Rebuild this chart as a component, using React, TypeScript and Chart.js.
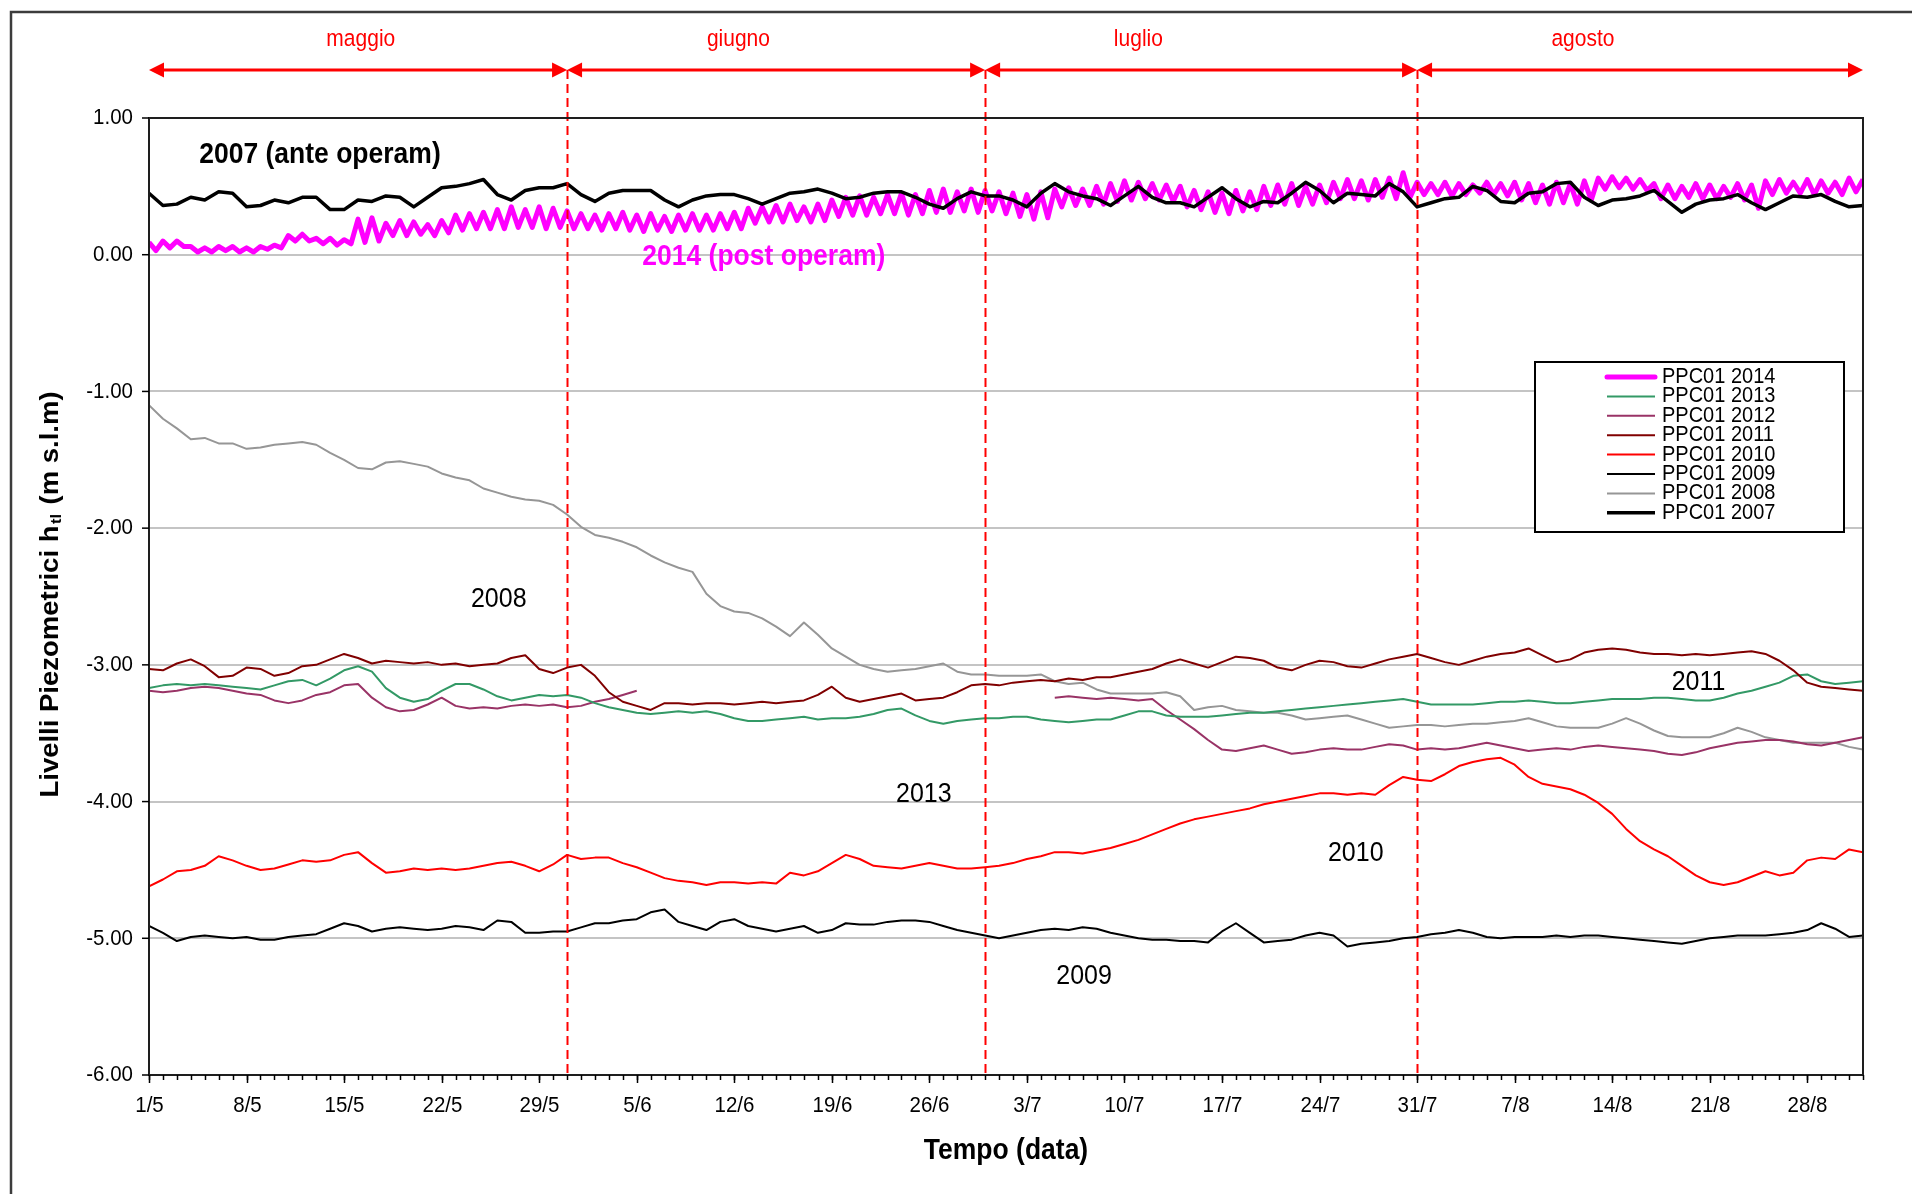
import { useEffect, useRef } from "react";
import { Chart, registerables } from "chart.js";

Chart.register(...registerables);

const FONT = '"Liberation Sans", Arial, Helvetica, sans-serif';

// ---- x positions: day index from 1/5 (0) to 1/9 (123)
const days = Array.from({ length: 124 }, (_, i) => i);

const xTickLabels = ["1/5", "8/5", "15/5", "22/5", "29/5", "5/6", "12/6", "19/6", "26/6", "3/7", "10/7", "17/7", "24/7", "31/7", "7/8", "14/8", "21/8", "28/8"];
const yTickLabels = ["1.00", "0.00", "-1.00", "-2.00", "-3.00", "-4.00", "-5.00", "-6.00"];

const monthNames = ["maggio", "giugno", "luglio", "agosto"];
const monthStartDay = [0, 30, 60, 91];
const monthEndDay = [30, 60, 91, 123];
const monthLabelDay = [15.2, 42.3, 71.0, 102.9];
const monthBoundaryDay = [30, 60, 91];

// ---- series (daily readings, m s.l.m)
const s2014High = [
  0.09, 0.10, 0.10, 0.06, 0.05, 0.06, 0.06, 0.05, 0.06, 0.07,
  0.14, 0.15, 0.12, 0.12, 0.11, 0.26, 0.27, 0.23, 0.25, 0.24,
  0.22, 0.25, 0.29, 0.30, 0.31, 0.33, 0.35, 0.33, 0.35, 0.34,
  0.32, 0.30, 0.29, 0.30, 0.31, 0.29, 0.30, 0.28, 0.29, 0.30,
  0.29, 0.30, 0.31, 0.34, 0.35, 0.36, 0.37, 0.35, 0.37, 0.40,
  0.42, 0.43, 0.42, 0.44, 0.45, 0.44, 0.47, 0.48, 0.46, 0.48,
  0.47, 0.46, 0.45, 0.44, 0.46, 0.48, 0.49, 0.48, 0.50, 0.52,
  0.54, 0.53, 0.52, 0.51, 0.50, 0.47, 0.46, 0.45, 0.47, 0.46,
  0.50, 0.51, 0.52, 0.50, 0.51, 0.53, 0.55, 0.54, 0.55, 0.56,
  0.60, 0.53, 0.52, 0.53, 0.52, 0.51, 0.53, 0.52, 0.53, 0.52,
  0.51, 0.53, 0.52, 0.54, 0.56, 0.57, 0.56, 0.55, 0.52, 0.51,
  0.50, 0.52, 0.51, 0.50, 0.52, 0.51, 0.54, 0.55, 0.53, 0.55,
  0.54, 0.53, 0.56, 0.55,
];
const s2014Low = [
  0.03, 0.05, 0.06, 0.02, 0.02, 0.03, 0.02, 0.02, 0.04, 0.05,
  0.10, 0.10, 0.08, 0.07, 0.08, 0.09, 0.10, 0.14, 0.14, 0.15,
  0.14, 0.16, 0.18, 0.19, 0.19, 0.19, 0.20, 0.20, 0.19, 0.20,
  0.19, 0.19, 0.18, 0.19, 0.18, 0.17, 0.18, 0.17, 0.18, 0.18,
  0.18, 0.19, 0.19, 0.23, 0.24, 0.24, 0.25, 0.24, 0.25, 0.28,
  0.29, 0.29, 0.30, 0.30, 0.29, 0.30, 0.31, 0.31, 0.32, 0.31,
  0.32, 0.30, 0.28, 0.26, 0.27, 0.35, 0.36, 0.36, 0.37, 0.39,
  0.40, 0.41, 0.40, 0.39, 0.35, 0.33, 0.31, 0.30, 0.32, 0.33,
  0.36, 0.37, 0.36, 0.37, 0.38, 0.41, 0.41, 0.40, 0.42, 0.41,
  0.42, 0.44, 0.44, 0.43, 0.44, 0.45, 0.44, 0.43, 0.40, 0.38,
  0.37, 0.38, 0.37, 0.40, 0.48, 0.49, 0.48, 0.47, 0.41, 0.41,
  0.42, 0.41, 0.41, 0.42, 0.40, 0.34, 0.44, 0.45, 0.45, 0.44,
  0.45, 0.44, 0.46, 0.48,
];
const s2013 = [
  -3.17, -3.15, -3.14, -3.15, -3.14, -3.15, -3.16, -3.17, -3.18, -3.15,
  -3.12, -3.11, -3.15, -3.10, -3.04, -3.01, -3.05, -3.17, -3.24, -3.27,
  -3.25, -3.19, -3.14, -3.14, -3.18, -3.23, -3.26, -3.24, -3.22, -3.23,
  -3.22, -3.24, -3.28, -3.31, -3.33, -3.35, -3.36, -3.35, -3.34, -3.35,
  -3.34, -3.36, -3.39, -3.41, -3.41, -3.40, -3.39, -3.38, -3.40, -3.39,
  -3.39, -3.38, -3.36, -3.33, -3.32, -3.37, -3.41, -3.43, -3.41, -3.40,
  -3.39, -3.39, -3.38, -3.38, -3.40, -3.41, -3.42, -3.41, -3.40, -3.40,
  -3.37, -3.34, -3.34, -3.37, -3.38, -3.38, -3.38, -3.37, -3.36, -3.35,
  -3.35, -3.34, -3.33, -3.32, -3.31, -3.30, -3.29, -3.28, -3.27, -3.26,
  -3.25, -3.27, -3.29, -3.29, -3.29, -3.29, -3.28, -3.27, -3.27, -3.26,
  -3.27, -3.28, -3.28, -3.27, -3.26, -3.25, -3.25, -3.25, -3.24, -3.24,
  -3.25, -3.26, -3.26, -3.24, -3.21, -3.19, -3.16, -3.13, -3.08, -3.07,
  -3.12, -3.14, -3.13, -3.12,
];
const s2012 = [
  -3.19, -3.20, -3.19, -3.17, -3.16, -3.17, -3.19, -3.21, -3.22, -3.26,
  -3.28, -3.26, -3.22, -3.20, -3.15, -3.14, -3.24, -3.31, -3.34, -3.33,
  -3.29, -3.24, -3.30, -3.32, -3.31, -3.32, -3.30, -3.29, -3.30, -3.29,
  -3.31, -3.30, -3.27, -3.25, -3.22, -3.19, null, null, null, null,
  null, null, null, null, null, null, null, null, null, null,
  null, null, null, null, null, null, null, null, null, null,
  null, null, null, null, null, -3.24, -3.23, -3.24, -3.25, -3.24,
  -3.25, -3.26, -3.25, -3.33, -3.40, -3.47, -3.55, -3.62, -3.63, -3.61,
  -3.59, -3.62, -3.65, -3.64, -3.62, -3.61, -3.62, -3.62, -3.60, -3.58,
  -3.59, -3.62, -3.61, -3.62, -3.61, -3.59, -3.57, -3.59, -3.61, -3.63,
  -3.62, -3.61, -3.62, -3.60, -3.59, -3.60, -3.61, -3.62, -3.63, -3.65,
  -3.66, -3.64, -3.61, -3.59, -3.57, -3.56, -3.55, -3.55, -3.56, -3.58,
  -3.59, -3.57, -3.55, -3.53,
];
const s2011 = [
  -3.03, -3.04, -2.99, -2.96, -3.01, -3.09, -3.08, -3.02, -3.03, -3.08,
  -3.06, -3.01, -3.00, -2.96, -2.92, -2.95, -2.99, -2.97, -2.98, -2.99,
  -2.98, -3.00, -2.99, -3.01, -3.00, -2.99, -2.95, -2.93, -3.03, -3.06,
  -3.02, -3.00, -3.08, -3.20, -3.27, -3.30, -3.33, -3.28, -3.28, -3.29,
  -3.28, -3.28, -3.29, -3.28, -3.27, -3.28, -3.27, -3.26, -3.22, -3.16,
  -3.24, -3.27, -3.25, -3.23, -3.21, -3.26, -3.25, -3.24, -3.20, -3.15,
  -3.14, -3.15, -3.13, -3.12, -3.11, -3.12, -3.10, -3.11, -3.09, -3.09,
  -3.07, -3.05, -3.03, -2.99, -2.96, -2.99, -3.02, -2.98, -2.94, -2.95,
  -2.97, -3.02, -3.04, -3.00, -2.97, -2.98, -3.01, -3.02, -2.99, -2.96,
  -2.94, -2.92, -2.95, -2.98, -3.00, -2.97, -2.94, -2.92, -2.91, -2.88,
  -2.93, -2.98, -2.96, -2.91, -2.89, -2.88, -2.89, -2.91, -2.92, -2.92,
  -2.93, -2.92, -2.93, -2.92, -2.91, -2.90, -2.92, -2.97, -3.04, -3.13,
  -3.16, -3.17, -3.18, -3.19,
];
const s2010 = [
  -4.62, -4.57, -4.51, -4.50, -4.47, -4.40, -4.43, -4.47, -4.50, -4.49,
  -4.46, -4.43, -4.44, -4.43, -4.39, -4.37, -4.45, -4.52, -4.51, -4.49,
  -4.50, -4.49, -4.50, -4.49, -4.47, -4.45, -4.44, -4.47, -4.51, -4.46,
  -4.39, -4.42, -4.41, -4.41, -4.45, -4.48, -4.52, -4.56, -4.58, -4.59,
  -4.61, -4.59, -4.59, -4.60, -4.59, -4.60, -4.52, -4.54, -4.51, -4.45,
  -4.39, -4.42, -4.47, -4.48, -4.49, -4.47, -4.45, -4.47, -4.49, -4.49,
  -4.48, -4.47, -4.45, -4.42, -4.40, -4.37, -4.37, -4.38, -4.36, -4.34,
  -4.31, -4.28, -4.24, -4.20, -4.16, -4.13, -4.11, -4.09, -4.07, -4.05,
  -4.02, -4.00, -3.98, -3.96, -3.94, -3.94, -3.95, -3.94, -3.95, -3.88,
  -3.82, -3.84, -3.85, -3.80, -3.74, -3.71, -3.69, -3.68, -3.73, -3.82,
  -3.87, -3.89, -3.91, -3.95, -4.01, -4.09, -4.20, -4.29, -4.35, -4.40,
  -4.47, -4.54, -4.59, -4.61, -4.59, -4.55, -4.51, -4.54, -4.52, -4.43,
  -4.41, -4.42, -4.35, -4.37,
];
const s2009 = [
  -4.91, -4.96, -5.02, -4.99, -4.98, -4.99, -5.00, -4.99, -5.01, -5.01,
  -4.99, -4.98, -4.97, -4.93, -4.89, -4.91, -4.95, -4.93, -4.92, -4.93,
  -4.94, -4.93, -4.91, -4.92, -4.94, -4.87, -4.88, -4.96, -4.96, -4.95,
  -4.95, -4.92, -4.89, -4.89, -4.87, -4.86, -4.81, -4.79, -4.88, -4.91,
  -4.94, -4.88, -4.86, -4.91, -4.93, -4.95, -4.93, -4.91, -4.96, -4.94,
  -4.89, -4.90, -4.90, -4.88, -4.87, -4.87, -4.88, -4.91, -4.94, -4.96,
  -4.98, -5.00, -4.98, -4.96, -4.94, -4.93, -4.94, -4.92, -4.93, -4.96,
  -4.98, -5.00, -5.01, -5.01, -5.02, -5.02, -5.03, -4.95, -4.89, -4.96,
  -5.03, -5.02, -5.01, -4.98, -4.96, -4.98, -5.06, -5.04, -5.03, -5.02,
  -5.00, -4.99, -4.97, -4.96, -4.94, -4.96, -4.99, -5.00, -4.99, -4.99,
  -4.99, -4.98, -4.99, -4.98, -4.98, -4.99, -5.00, -5.01, -5.02, -5.03,
  -5.04, -5.02, -5.00, -4.99, -4.98, -4.98, -4.98, -4.97, -4.96, -4.94,
  -4.89, -4.93, -4.99, -4.98,
];
const s2008 = [
  -1.10, -1.20, -1.27, -1.35, -1.34, -1.38, -1.38, -1.42, -1.41, -1.39,
  -1.38, -1.37, -1.39, -1.45, -1.50, -1.56, -1.57, -1.52, -1.51, -1.53,
  -1.55, -1.60, -1.63, -1.65, -1.71, -1.74, -1.77, -1.79, -1.80, -1.83,
  -1.90, -1.99, -2.05, -2.07, -2.10, -2.14, -2.20, -2.25, -2.29, -2.32,
  -2.48, -2.57, -2.61, -2.62, -2.66, -2.72, -2.79, -2.69, -2.78, -2.88,
  -2.94, -3.00, -3.03, -3.05, -3.04, -3.03, -3.01, -2.99, -3.05, -3.07,
  -3.07, -3.08, -3.08, -3.08, -3.07, -3.12, -3.14, -3.13, -3.18, -3.21,
  -3.21, -3.21, -3.21, -3.20, -3.23, -3.33, -3.31, -3.30, -3.33, -3.34,
  -3.35, -3.35, -3.37, -3.40, -3.39, -3.38, -3.37, -3.40, -3.43, -3.46,
  -3.45, -3.44, -3.44, -3.45, -3.44, -3.43, -3.43, -3.42, -3.41, -3.39,
  -3.42, -3.45, -3.46, -3.46, -3.46, -3.43, -3.39, -3.43, -3.48, -3.52,
  -3.53, -3.53, -3.53, -3.50, -3.46, -3.49, -3.53, -3.55, -3.57, -3.57,
  -3.57, -3.57, -3.60, -3.62,
];
const s2007 = [
  0.45, 0.36, 0.37, 0.42, 0.40, 0.46, 0.45, 0.35, 0.36, 0.40,
  0.38, 0.42, 0.42, 0.33, 0.33, 0.40, 0.39, 0.43, 0.42, 0.35,
  0.42, 0.49, 0.50, 0.52, 0.55, 0.44, 0.40, 0.47, 0.49, 0.49,
  0.52, 0.44, 0.39, 0.45, 0.47, 0.47, 0.47, 0.40, 0.35, 0.40,
  0.43, 0.44, 0.44, 0.41, 0.37, 0.41, 0.45, 0.46, 0.48, 0.45,
  0.41, 0.42, 0.45, 0.46, 0.46, 0.42, 0.37, 0.34, 0.41, 0.46,
  0.43, 0.43, 0.40, 0.35, 0.45, 0.52, 0.46, 0.43, 0.41, 0.36,
  0.43, 0.50, 0.42, 0.38, 0.38, 0.35, 0.42, 0.49, 0.41, 0.35,
  0.39, 0.38, 0.45, 0.53, 0.47, 0.38, 0.45, 0.44, 0.43, 0.52,
  0.46, 0.35, 0.38, 0.41, 0.42, 0.50, 0.47, 0.39, 0.38, 0.45,
  0.46, 0.52, 0.53, 0.42, 0.36, 0.40, 0.41, 0.43, 0.47, 0.39,
  0.31, 0.37, 0.40, 0.41, 0.44, 0.38, 0.33, 0.38, 0.43, 0.42,
  0.44, 0.39, 0.35, 0.36,
];

const seriesLabels = ["PPC01 2014", "PPC01 2013", "PPC01 2012", "PPC01 2011", "PPC01 2010", "PPC01 2009", "PPC01 2008", "PPC01 2007"];
const seriesColors = ["#ff00ff", "#339966", "#993366", "#800000", "#ff0000", "#000000", "#969696", "#000000"];
const seriesWidths = [5, 2, 2, 2, 2, 2, 2, 3.5];
const seriesOrder = [1, 5, 6, 4, 3, 2, 7, 0];

// in-plot annotations (data coordinates: day, value)
const annoTexts = ["2007 (ante operam)", "2014 (post operam)", "2008", "2013", "2010", "2009", "2011"];
const annoDays = [3.6, 35.4, 25.1, 55.6, 86.6, 67.1, 111.2];
const annoValues = [0.73, -0.02, -2.52, -3.95, -4.38, -5.28, -3.13];
const annoColors = ["#000000", "#ff00ff", "#000000", "#000000", "#000000", "#000000", "#000000"];
const annoBold = [true, true, false, false, false, false, false];
const annoAlign = ["left", "left", "center", "center", "center", "center", "center"];

function pts(vals: (number | null)[]) {
  return vals.map((v, i) => ({ x: days[i], y: v }));
}

function drawText(
  ctx: CanvasRenderingContext2D, s: string, x: number, y: number, size: number,
  opts: { bold?: boolean; color?: string; align?: CanvasTextAlign; sy?: number } = {}
) {
  ctx.save();
  ctx.translate(x, y);
  ctx.scale(1, opts.sy ?? 1.1);
  ctx.font = `${opts.bold ? "bold " : ""}${size}px ${FONT}`;
  ctx.fillStyle = opts.color ?? "#000";
  ctx.textAlign = opts.align ?? "center";
  ctx.textBaseline = "middle";
  ctx.fillText(s, 0, 0);
  ctx.restore();
}

const decorPlugin = {
  id: "decor",
  beforeDraw(chart: any) {
    const ctx: CanvasRenderingContext2D = chart.ctx;
    ctx.save();
    ctx.fillStyle = "#ffffff";
    ctx.fillRect(0, 0, chart.width, chart.height);
    ctx.strokeStyle = "#3c3c3c";
    ctx.lineWidth = 2.5;
    ctx.strokeRect(11, 12, chart.width + 50, chart.height + 50);
    ctx.restore();
  },
  afterDatasetsDraw(chart: any) {
    const ctx: CanvasRenderingContext2D = chart.ctx;
    const a = chart.chartArea;
    const xs = chart.scales.x;
    const ys = chart.scales.y;
    const arrowY = 70;

    ctx.save();
    // month boundaries (dashed)
    ctx.strokeStyle = "#ff0000";
    ctx.lineWidth = 2;
    ctx.setLineDash([9, 5]);
    monthBoundaryDay.forEach((d) => {
      const px = Math.round(xs.getPixelForValue(d)) + 0.5;
      ctx.beginPath();
      ctx.moveTo(px, arrowY);
      ctx.lineTo(px, a.bottom);
      ctx.stroke();
    });
    ctx.setLineDash([]);

    // month arrows and labels
    ctx.fillStyle = "#ff0000";
    ctx.lineWidth = 3;
    monthNames.forEach((m, i) => {
      const x1 = xs.getPixelForValue(monthStartDay[i]);
      const x2 = xs.getPixelForValue(monthEndDay[i]);
      const hl = 15, hw = 7.5;
      ctx.beginPath();
      ctx.moveTo(x1 + hl - 2, arrowY);
      ctx.lineTo(x2 - hl + 2, arrowY);
      ctx.stroke();
      ctx.beginPath();
      ctx.moveTo(x1, arrowY);
      ctx.lineTo(x1 + hl, arrowY - hw);
      ctx.lineTo(x1 + hl, arrowY + hw);
      ctx.closePath();
      ctx.fill();
      ctx.beginPath();
      ctx.moveTo(x2, arrowY);
      ctx.lineTo(x2 - hl, arrowY - hw);
      ctx.lineTo(x2 - hl, arrowY + hw);
      ctx.closePath();
      ctx.fill();
      drawText(ctx, m, xs.getPixelForValue(monthLabelDay[i]), 40, 21, { color: "#ff0000" });
    });

    // plot border
    ctx.strokeStyle = "#1e1e1e";
    ctx.lineWidth = 2;
    ctx.strokeRect(a.left, a.top, a.right - a.left, a.bottom - a.top);

    // y ticks + labels
    ctx.lineWidth = 1.5;
    ctx.strokeStyle = "#000";
    ys.ticks.forEach((t: any) => {
      const py = ys.getPixelForValue(t.value);
      ctx.beginPath();
      ctx.moveTo(a.left - 7, py);
      ctx.lineTo(a.left, py);
      ctx.stroke();
      const idx = Math.round(1 - t.value);
      drawText(ctx, yTickLabels[idx], a.left - 16, py, 20.5, { align: "right" });
    });

    // x minor ticks (daily) and major ticks + labels
    days.forEach((d) => {
      const px = Math.round(xs.getPixelForValue(d)) + 0.5;
      ctx.beginPath();
      ctx.moveTo(px, a.bottom);
      ctx.lineTo(px, a.bottom + 5);
      ctx.stroke();
    });
    xs.ticks.forEach((t: any) => {
      const px = Math.round(xs.getPixelForValue(t.value)) + 0.5;
      ctx.beginPath();
      ctx.moveTo(px, a.bottom);
      ctx.lineTo(px, a.bottom + 8);
      ctx.stroke();
      const idx = Math.round(t.value / 7);
      if (xTickLabels[idx]) drawText(ctx, xTickLabels[idx], px, a.bottom + 31, 20.5);
    });

    // axis titles
    drawText(ctx, "Tempo (data)", (a.left + a.right) / 2, 1151, 26.5, { bold: true });
    {
      const big = `bold 25px ${FONT}`;
      const small = `bold 15px ${FONT}`;
      const p1 = "Livelli Piezometrici h";
      const p2 = "tl";
      const p3 = " (m s.l.m)";
      ctx.save();
      ctx.translate(51, (a.top + a.bottom) / 2 - 2);
      ctx.rotate(-Math.PI / 2);
      ctx.scale(1.1, 1);
      ctx.fillStyle = "#000";
      ctx.textBaseline = "middle";
      ctx.textAlign = "left";
      ctx.font = big;
      const w1 = ctx.measureText(p1).width;
      const w3 = ctx.measureText(p3).width;
      ctx.font = small;
      const w2 = ctx.measureText(p2).width;
      const start = -(w1 + w2 + w3 + 3) / 2;
      ctx.font = big;
      ctx.fillText(p1, start, 0);
      ctx.font = small;
      ctx.fillText(p2, start + w1 + 1.5, 6);
      ctx.font = big;
      ctx.fillText(p3, start + w1 + w2 + 3, 0);
      ctx.restore();
    }

    // annotations
    annoTexts.forEach((s, i) => {
      drawText(ctx, s, xs.getPixelForValue(annoDays[i]), ys.getPixelForValue(annoValues[i]),
        annoBold[i] ? 26.5 : 25, { bold: annoBold[i], color: annoColors[i], align: annoAlign[i] as CanvasTextAlign });
    });

    // legend
    const lx = 1535, ly = 362, lw = 309, lh = 170;
    ctx.fillStyle = "#fff";
    ctx.fillRect(lx, ly, lw, lh);
    ctx.strokeStyle = "#000";
    ctx.lineWidth = 2;
    ctx.strokeRect(lx, ly, lw, lh);
    seriesLabels.forEach((lab, i) => {
      const ry = 377 + i * 19.4;
      ctx.strokeStyle = seriesColors[i];
      ctx.lineWidth = seriesWidths[i];
      ctx.lineCap = i === 0 ? "round" : "butt";
      ctx.beginPath();
      ctx.moveTo(1607, ry);
      ctx.lineTo(1655, ry);
      ctx.stroke();
      drawText(ctx, lab, 1662, ry, 20, { align: "left" });
    });
    ctx.restore();
  },
};

export default function App() {
  const ref = useRef<HTMLCanvasElement>(null);
  useEffect(() => {
    const canvas = ref.current;
    if (!canvas) return;
    const pts2014: { x: number; y: number }[] = [];
    s2014High.forEach((h, i) => {
      pts2014.push({ x: days[i], y: h });
      pts2014.push({ x: days[i] + 0.5, y: s2014Low[i] });
    });
    const seriesData = [pts2014, pts(s2013), pts(s2012), pts(s2011), pts(s2010), pts(s2009), pts(s2008), pts(s2007)];
    const chart = new Chart(canvas, {
      type: "line",
      data: {
        datasets: seriesLabels.map((label, i) => ({
          label,
          data: seriesData[i] as any,
          borderColor: seriesColors[i],
          backgroundColor: seriesColors[i],
          borderWidth: seriesWidths[i],
          pointRadius: 0,
          tension: 0,
          spanGaps: false,
          fill: false,
          order: seriesOrder[i],
          borderJoinStyle: "round" as CanvasLineJoin,
        })),
      },
      options: {
        responsive: false,
        animation: false,
        events: [],
        layout: { padding: { top: 118, right: 49, left: 0, bottom: 0 } },
        plugins: { legend: { display: false }, tooltip: { enabled: false } },
        scales: {
          x: {
            type: "linear",
            min: 0,
            max: 123,
            ticks: { stepSize: 7, includeBounds: false, display: false, autoSkip: false },
            grid: { display: false, drawTicks: false },
            border: { display: false },
            afterFit: (s: any) => { s.height = 119; },
          },
          y: {
            type: "linear",
            min: -6,
            max: 1,
            ticks: { stepSize: 1, display: false },
            grid: { color: "#c4c4c4", lineWidth: 2, drawTicks: false },
            border: { display: false },
            afterFit: (s: any) => { s.width = 149; },
          },
        },
      },
      plugins: [decorPlugin],
    });
    return () => chart.destroy();
  }, []);
  return (
    <div style={{ position: "absolute", left: 0, top: 0, width: 1912, height: 1194, background: "#fff" }}>
      <canvas ref={ref} width={1912} height={1194} style={{ width: 1912, height: 1194, display: "block" }} />
    </div>
  );
}
